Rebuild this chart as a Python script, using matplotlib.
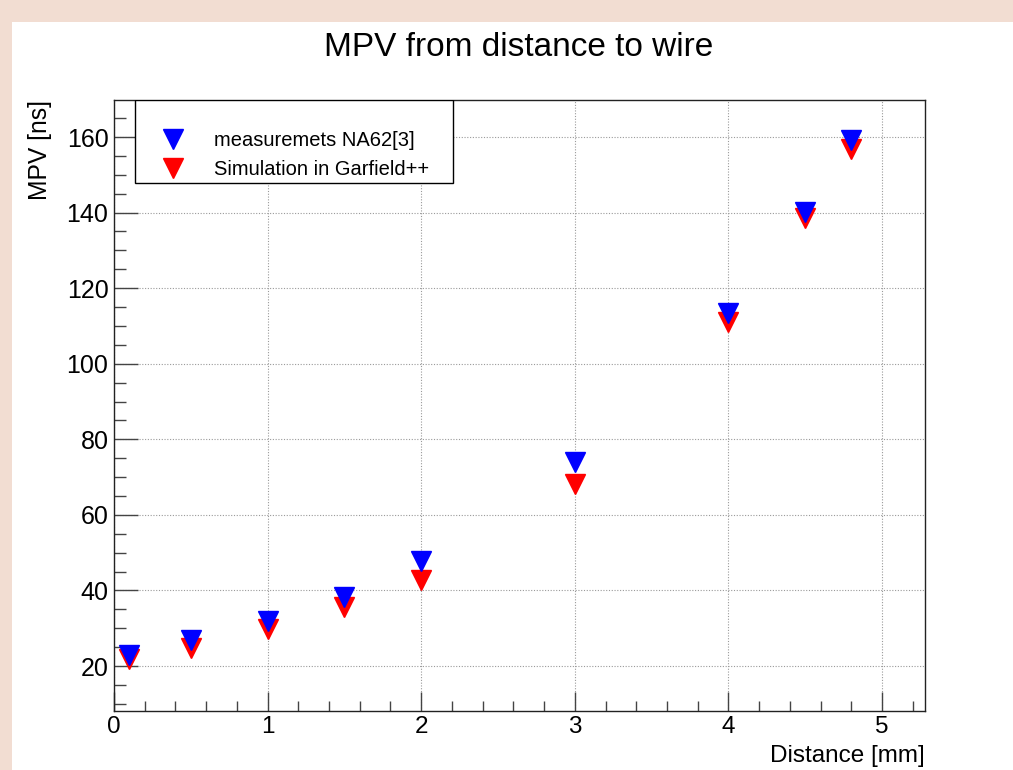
import matplotlib
matplotlib.use("Agg")
import matplotlib.pyplot as plt
from matplotlib.patches import Rectangle
from matplotlib.lines import Line2D
from matplotlib.ticker import MultipleLocator

plt.rcParams['font.family'] = ['Liberation Sans', 'DejaVu Sans']

# ---- data ----
distance_mm = [0.1, 0.5, 1.0, 1.5, 2.0, 3.0, 4.0, 4.5, 4.8]
mpv_measured = [22.9, 26.8, 32.0, 38.3, 47.7, 74.0, 113.4, 140.2, 159.3]
mpv_simulated = [21.9, 24.8, 29.7, 35.6, 42.9, 68.3, 111.1, 138.5, 156.9]
label_measured = "measuremets NA62[3]"
label_simulated = "Simulation in Garfield++"
title = "MPV from distance to wire"
xlabel = "Distance [mm]"
ylabel = "MPV [ns]"

W, H = 1013, 770
fig = plt.figure(figsize=(W / 100, H / 100), dpi=100)
fig.patch.set_facecolor('#F2DDD2')
fig.patches.append(Rectangle((12 / W, 0), 1 - 12 / W, (H - 22) / H,
                             transform=fig.transFigure, facecolor='white',
                             edgecolor='none', zorder=-10))

L, R, T, B = 114, 925, 100, 711
ax = fig.add_axes([L / W, (H - B) / H, (R - L) / W, (B - T) / H])
ax.set_facecolor('white')

ms = 14
ax.plot(distance_mm, mpv_simulated, linestyle='none', marker='v', ms=ms,
        color='#ff0000', mec='#ff0000', zorder=3)
ax.plot(distance_mm, mpv_measured, linestyle='none', marker='v', ms=ms,
        color='#0000ff', mec='#0000ff', zorder=4)

ax.set_xlim(0, 5.28)
ax.set_ylim(8.1, 169.8)
ax.xaxis.set_major_locator(MultipleLocator(1))
ax.xaxis.set_minor_locator(MultipleLocator(0.2))
ax.yaxis.set_major_locator(MultipleLocator(20))
ax.yaxis.set_minor_locator(MultipleLocator(5))

ax.grid(True, which='major', color='#9a9a9a', linestyle=(0, (1, 1.5)), linewidth=0.8)
ax.set_axisbelow(True)

for s in ax.spines.values():
    s.set_color('#222222')
    s.set_linewidth(1.0)

ax.tick_params(axis='x', which='major', direction='in', length=13.7, width=1.0,
               color='#444444', labelsize=17.5, pad=3.5)
ax.tick_params(axis='x', which='minor', direction='in', length=7.2, width=1.0,
               color='#444444')
ax.tick_params(axis='y', which='major', direction='in', length=17, width=1.0,
               color='#444444', labelsize=18, pad=4)
ax.tick_params(axis='y', which='minor', direction='in', length=8.5, width=1.0,
               color='#444444')
ax.tick_params(top=False, right=False, which='both')

ax.set_xlabel(xlabel, fontsize=17.5, loc='right')
ax.xaxis.set_label_coords(1.0, -0.056)
ax.set_ylabel(ylabel, fontsize=17.7, loc='top')
ax.yaxis.set_label_coords(-0.077, 1.0)

fig.text(519 / W, 1 - 48 / H, title, ha='center', va='center', fontsize=24)

# legend frame + entries
lx0, lx1, ly0, ly1 = 135, 453, 100, 183
def fx(px):
    return (px - L) / (R - L)
def fy(py):
    return (B - py) / (B - T)
ax.add_patch(Rectangle((fx(lx0), fy(ly1)), fx(lx1) - fx(lx0), fy(ly0) - fy(ly1),
                       transform=ax.transAxes, facecolor='white', edgecolor='black',
                       linewidth=1.0, zorder=5))
handles = [Line2D([], [], linestyle='none', marker='v', ms=ms, color='#0000ff'),
           Line2D([], [], linestyle='none', marker='v', ms=ms, color='#ff0000')]
leg = ax.legend(handles, [label_measured, label_simulated], loc='upper left',
                bbox_to_anchor=(fx(163), fy(131)), frameon=False, fontsize=14.5,
                handlelength=1.0, handletextpad=1.55, labelspacing=0.5,
                borderpad=0, borderaxespad=0)
leg.set_zorder(6)

fig.savefig('out.png', dpi=100, facecolor=fig.get_facecolor())
